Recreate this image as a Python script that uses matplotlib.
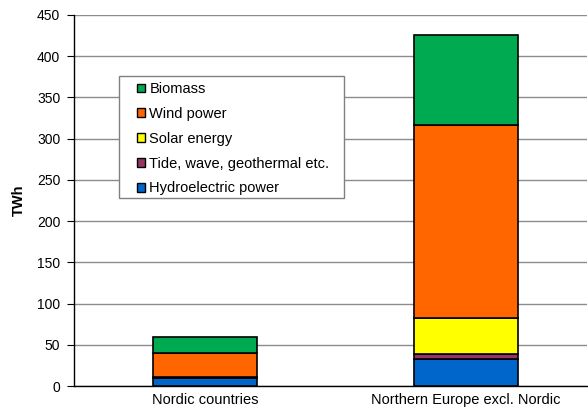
import matplotlib.pyplot as plt
from matplotlib.patches import Patch, Rectangle

plt.rcParams['font.family'] = ['Liberation Sans', 'DejaVu Sans']

regions = ['Nordic countries', 'Northern Europe excl. Nordic']
hydro = [10, 33]
tide = [0.3, 5.5]
solar = [0.2, 44.5]
wind = [30, 233]
biomass = [18.5, 110]

series = [
    ('Hydroelectric power', hydro, '#0066CC'),
    ('Tide, wave, geothermal etc.', tide, '#993366'),
    ('Solar energy', solar, '#FFFF00'),
    ('Wind power', wind, '#FF6600'),
    ('Biomass', biomass, '#00AA50'),
]

fig = plt.figure(figsize=(5.88, 4.16), dpi=100)
ax = fig.add_axes([0.126, 0.072, 0.872, 0.892])

x = range(len(regions))
bottom = [0, 0]
for name, vals, col in series:
    ax.bar(x, vals, bottom=bottom, width=0.40, color=col, edgecolor='black',
           linewidth=1.2, label=name, zorder=3)
    bottom = [b + v for b, v in zip(bottom, vals)]

ax.set_ylim(0, 450)
ax.set_yticks(range(0, 451, 50))
ax.set_xlim(-0.502, 1.464)
ax.set_xticks(list(x))
ax.set_xticklabels(regions)
ax.tick_params(axis='x', length=0, labelsize=10.5, pad=5)
ax.tick_params(axis='y', labelsize=10, length=5, pad=5, direction='out')
ax.yaxis.grid(True, color='#8c8c8c', linewidth=1, zorder=0)
ax.set_axisbelow(True)
for s in ['top', 'right']:
    ax.spines[s].set_visible(False)
ax.spines['left'].set_linewidth(1)
ax.spines['bottom'].set_linewidth(1)
ax.set_ylabel('TWh', fontsize=10.5, fontweight='bold', labelpad=8)

# legend frame drawn separately (wider padding than matplotlib's legend)
frame = Rectangle((0.0877, 0.5067), 0.4386, 0.3288, transform=ax.transAxes,
                  facecolor='white', edgecolor='#808080', linewidth=1, zorder=4)
ax.add_patch(frame)

handles = [Patch(facecolor=c, edgecolor='black', linewidth=1, label=n)
           for n, v, c in reversed(series)]
leg = ax.legend(handles=handles, loc='upper left', bbox_to_anchor=(0.1228, 0.819),
                borderaxespad=0, borderpad=0, fontsize=10.5, frameon=False,
                handlelength=0.55, handleheight=0.55,
                handletextpad=0.3, labelspacing=0.74)
leg.set_zorder(5)

plt.savefig('out.png', dpi=100)
